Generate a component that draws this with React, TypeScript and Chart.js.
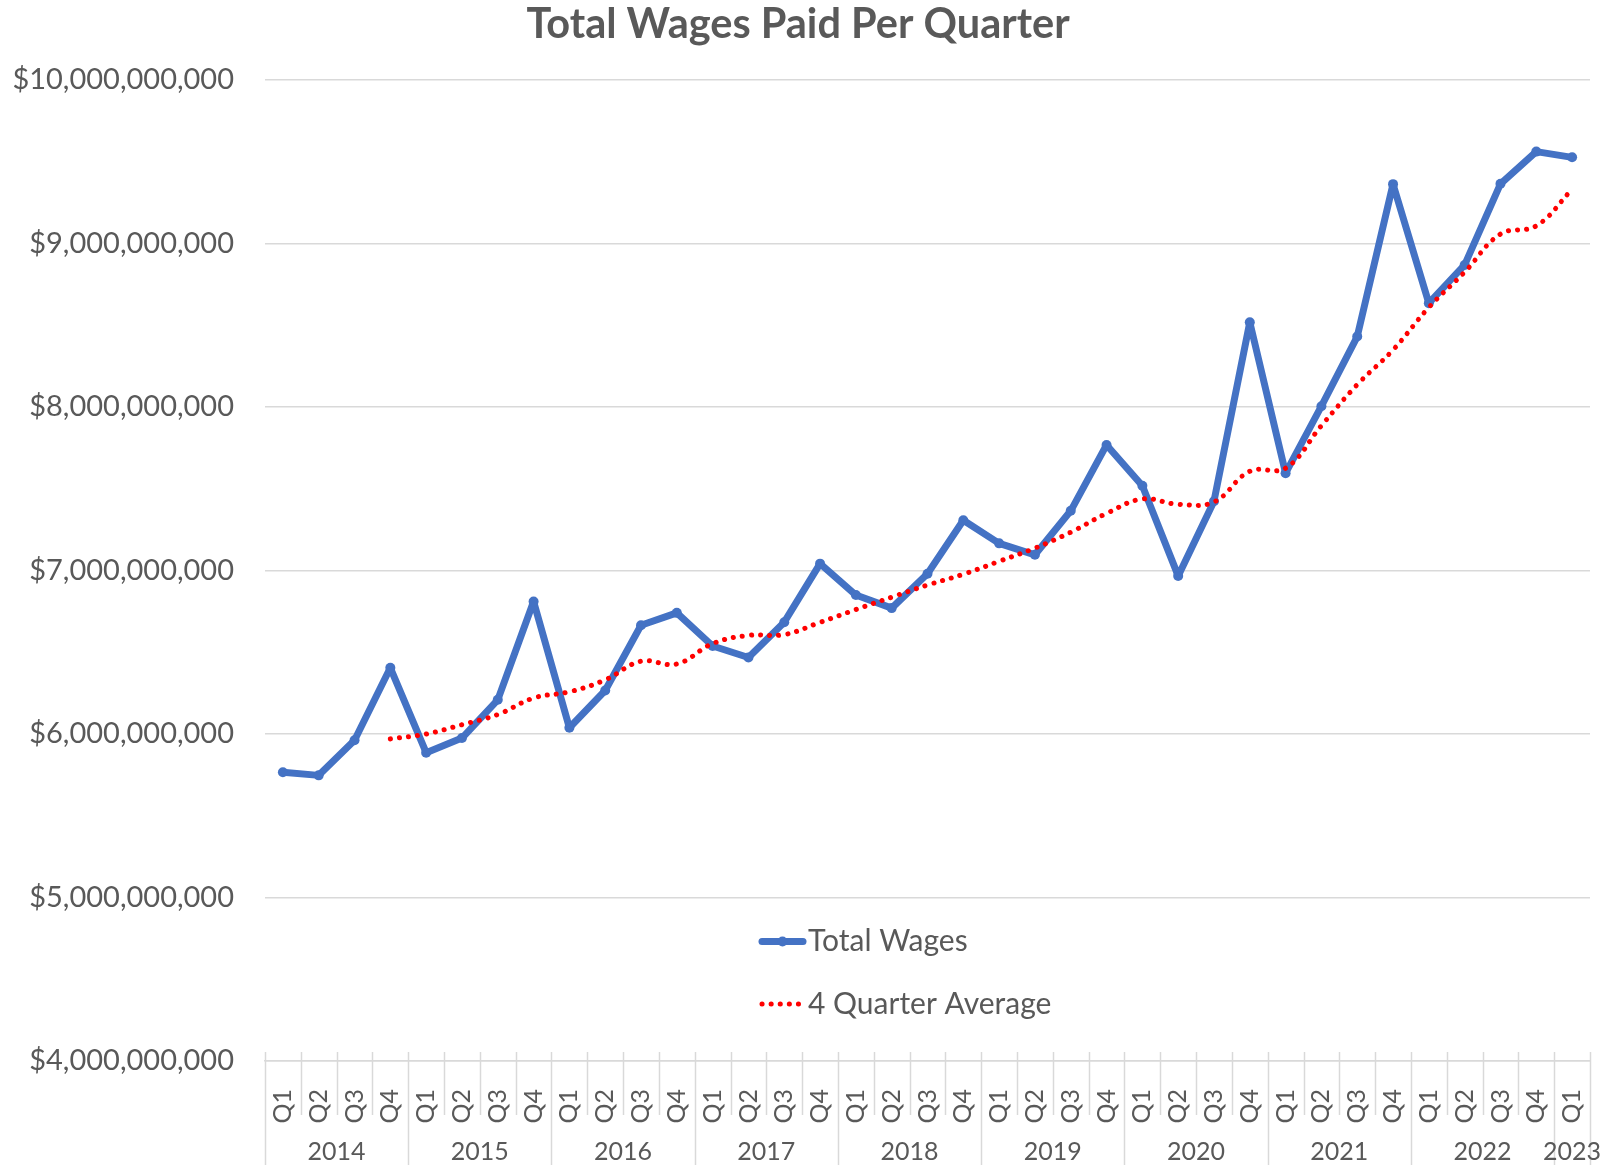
import React, { useEffect, useRef } from "react";
import { Chart, registerables } from "chart.js";

Chart.register(...registerables);

// ---------- data ----------
const quarterLabels = [
  "Q1", "Q2", "Q3", "Q4",
  "Q1", "Q2", "Q3", "Q4",
  "Q1", "Q2", "Q3", "Q4",
  "Q1", "Q2", "Q3", "Q4",
  "Q1", "Q2", "Q3", "Q4",
  "Q1", "Q2", "Q3", "Q4",
  "Q1", "Q2", "Q3", "Q4",
  "Q1", "Q2", "Q3", "Q4",
  "Q1", "Q2", "Q3", "Q4",
  "Q1",
];
const yearLabels = ["2014", "2015", "2016", "2017", "2018", "2019", "2020", "2021", "2022", "2023"];
const quartersPerYear = [4, 4, 4, 4, 4, 4, 4, 4, 4, 1];

const totalWages = [
  5.766e9, 5.747e9, 5.962e9, 6.405e9,
  5.886e9, 5.975e9, 6.209e9, 6.81e9,
  6.038e9, 6.266e9, 6.665e9, 6.741e9,
  6.538e9, 6.468e9, 6.684e9, 7.042e9,
  6.85e9, 6.77e9, 6.98e9, 7.307e9,
  7.166e9, 7.096e9, 7.365e9, 7.768e9,
  7.518e9, 6.967e9, 7.424e9, 8.518e9,
  7.595e9, 8.005e9, 8.431e9, 9.363e9,
  8.635e9, 8.869e9, 9.365e9, 9.562e9,
  9.527e9,
];

const fourQuarterAverage = [
  null, null, null, 5.97e9,
  6.0e9, 6.057e9, 6.119e9, 6.22e9,
  6.258e9, 6.331e9, 6.445e9, 6.428e9,
  6.553e9, 6.603e9, 6.608e9, 6.683e9,
  6.761e9, 6.837e9, 6.911e9, 6.977e9,
  7.056e9, 7.137e9, 7.234e9, 7.349e9,
  7.437e9, 7.405e9, 7.419e9, 7.607e9,
  7.626e9, 7.886e9, 8.137e9, 8.349e9,
  8.609e9, 8.825e9, 9.058e9, 9.108e9,
  9.331e9,
];

const seriesNames = ["Total Wages", "4 Quarter Average"];
const chartTitle = "Total Wages Paid Per Quarter";
const yMin = 4e9;
const yMax = 10e9;
const yStep = 1e9;

// ---------- style ----------
const TEXT = "#595959";
const GRID = "#D9D9D9";
const BLUE = "#4472C4";
const RED = "#FF0000";
const FONT = "Lato, 'Open Sans', sans-serif";

const W = 1623;
const H = 1165;

const multiLevelAxisPlugin = {
  id: "multiLevelAxis",
  afterDraw(chart: any) {
    const ctx = chart.ctx;
    const x = chart.scales.x;
    const area = chart.chartArea;
    const n = quarterLabels.length;
    const p0 = x.getPixelForValue(0);
    const step = x.getPixelForValue(1) - p0;
    ctx.save();
    ctx.strokeStyle = GRID;
    ctx.lineWidth = 1.5;
    const yearStarts = new Set<number>();
    let acc = 0;
    yearStarts.add(0);
    for (const c of quartersPerYear) {
      acc += c;
      yearStarts.add(acc);
    }
    for (let i = 0; i <= n; i++) {
      const px = Math.round(p0 + (i - 0.5) * step) + 0.5;
      const isYear = yearStarts.has(i);
      ctx.beginPath();
      ctx.moveTo(px, area.bottom - 9);
      ctx.lineTo(px, isYear ? H : area.bottom + 54);
      ctx.stroke();
    }
    // year labels
    ctx.fillStyle = TEXT;
    ctx.font = `25px ${FONT}`;
    ctx.textAlign = "center";
    ctx.textBaseline = "middle";
    let start = 0;
    quartersPerYear.forEach((c, k) => {
      const first = x.getPixelForValue(start);
      const last = x.getPixelForValue(start + c - 1);
      ctx.fillText(yearLabels[k], (first + last) / 2, 1152);
      start += c;
    });
    ctx.restore();
  },
};

const legendPlugin = {
  id: "insideLegend",
  afterDraw(chart: any) {
    const ctx = chart.ctx;
    const ds = chart.data.datasets;
    const x0 = 762;
    const x1 = 803;
    const rows = [941.5, 1004];
    ctx.save();
    // Total Wages
    ctx.strokeStyle = ds[0].borderColor;
    ctx.lineWidth = ds[0].borderWidth;
    ctx.lineCap = "round";
    ctx.beginPath();
    ctx.moveTo(x0, rows[0]);
    ctx.lineTo(x1, rows[0]);
    ctx.stroke();
    ctx.fillStyle = ds[0].pointBackgroundColor;
    ctx.beginPath();
    ctx.arc((x0 + x1) / 2, rows[0], ds[0].pointRadius, 0, Math.PI * 2);
    ctx.fill();
    // 4 Quarter Average
    ctx.strokeStyle = ds[1].borderColor;
    ctx.lineWidth = ds[1].borderWidth;
    ctx.lineCap = "round";
    ctx.setLineDash(ds[1].borderDash);
    ctx.beginPath();
    ctx.moveTo(x0, rows[1]);
    ctx.lineTo(x1 + 1, rows[1]);
    ctx.stroke();
    ctx.setLineDash([]);
    ctx.fillStyle = TEXT;
    ctx.font = `30px ${FONT}`;
    ctx.textAlign = "left";
    ctx.textBaseline = "middle";
    ctx.fillText(ds[0].label, 808, rows[0]);
    ctx.fillText(ds[1].label, 808, rows[1]);
    ctx.restore();
  },
};

function formatDollars(v: number): string {
  return "$" + Math.round(v).toString().replace(/\B(?=(\d{3})+(?!\d))/g, ",");
}

export default function App() {
  const canvasRef = useRef<HTMLCanvasElement | null>(null);

  useEffect(() => {
    let chart: Chart | null = null;
    let cancelled = false;
    const build = () => {
      if (cancelled || !canvasRef.current) return;
      chart = new Chart(canvasRef.current, {
        type: "line",
        data: {
          labels: quarterLabels,
          datasets: [
            {
              label: seriesNames[0],
              data: totalWages,
              borderColor: BLUE,
              backgroundColor: BLUE,
              pointBackgroundColor: BLUE,
              pointBorderColor: BLUE,
              borderWidth: 7,
              pointRadius: 5,
              pointBorderWidth: 0,
              tension: 0,
              borderJoinStyle: "round",
              order: 1,
            },
            {
              label: seriesNames[1],
              data: fourQuarterAverage,
              borderColor: RED,
              backgroundColor: RED,
              borderWidth: 5,
              borderDash: [0.1, 9],
              borderCapStyle: "round",
              pointRadius: 0,
              tension: 0.4,
              order: 0,
            },
          ],
        },
        options: {
          animation: false,
          responsive: false,
          devicePixelRatio: 1,
          layout: { padding: { left: 6, right: 33, top: 0, bottom: 0 } },
          plugins: {
            legend: { display: false },
            tooltip: { enabled: false },
            title: {
              display: true,
              text: chartTitle,
              color: TEXT,
              font: { family: FONT, size: 41.5, weight: "bold" },
              padding: { top: 0, bottom: 30.2 },
            },
          },
          scales: {
            x: {
              type: "category",
              offset: true,
              grid: { display: false },
              border: { display: true, color: GRID, width: 1.5 },
              ticks: {
                color: TEXT,
                font: { family: FONT, size: 25 },
                minRotation: 90,
                maxRotation: 90,
                autoSkip: false,
                padding: 20,
              },
              afterFit: (s: any) => {
                s.height = 104;
              },
            },
            y: {
              min: yMin,
              max: yMax,
              border: { display: false },
              grid: { color: GRID, lineWidth: 1.5, drawTicks: false },
              ticks: {
                stepSize: yStep,
                color: TEXT,
                font: { family: FONT, size: 29 },
                padding: 31,
                callback: (v: any) => formatDollars(Number(v)),
              },
              afterFit: (s: any) => {
                s.width = 259;
              },
            },
          },
        },
        plugins: [multiLevelAxisPlugin, legendPlugin],
      } as any);
    };
    const fontsReady = (document as any).fonts
      ? Promise.all([
          (document as any).fonts.load(`29px Lato`),
          (document as any).fonts.load(`bold 41px Lato`),
        ]).catch(() => null)
      : Promise.resolve(null);
    fontsReady.then(build);
    return () => {
      cancelled = true;
      if (chart) chart.destroy();
    };
  }, []);

  return (
    <div style={{ position: "fixed", left: 0, top: 0, width: W, height: H, background: "#fff" }}>
      <canvas ref={canvasRef} width={W} height={H} style={{ width: W, height: H, display: "block" }} />
    </div>
  );
}
